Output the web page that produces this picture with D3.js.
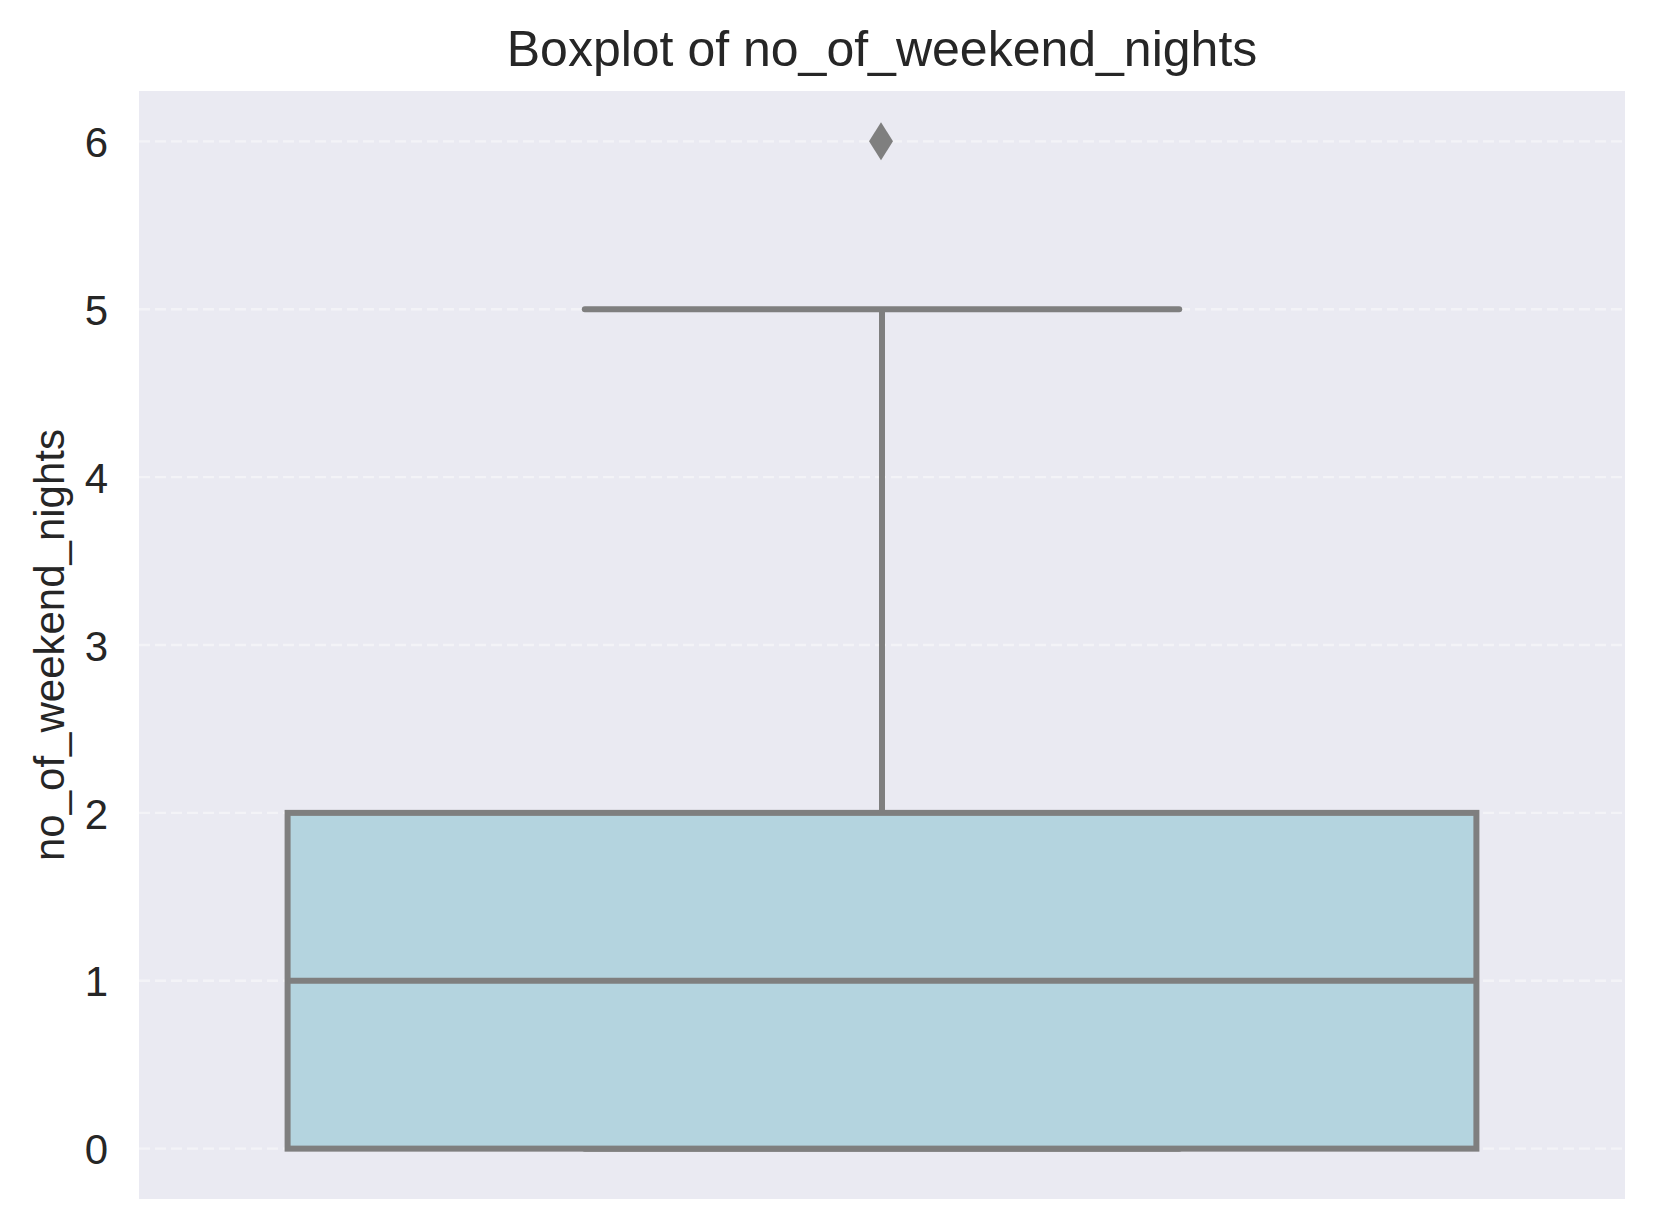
<!DOCTYPE html>
<html><head><meta charset="utf-8">
<script src="https://cdn.jsdelivr.net/npm/d3@7"></script>
<style>body{margin:0;background:#fff}svg{display:block}text{font-family:"Liberation Sans",Arial,sans-serif;fill:#262626}</style>
</head><body>
<script>
const title = "Boxplot of no_of_weekend_nights";
const yLabel = "no_of_weekend_nights";
const yTicks = [0, 1, 2, 3, 4, 5, 6];
const boxStats = [{q1: 0, median: 1, q3: 2, whiskerLow: 0, whiskerHigh: 5}];
const outliers = [6];

const W = 1655, H = 1230;
const m = {left: 139, right: 1625, top: 91, bottom: 1199};
const svg = d3.select("body").append("svg").attr("width", W).attr("height", H);

const y = d3.scaleLinear().domain([-0.3, 6.3]).range([m.bottom, m.top]);
const x = d3.scaleLinear().domain([-0.5, 0.5]).range([m.left, m.right]);

svg.append("rect").attr("x", m.left).attr("y", m.top)
  .attr("width", m.right - m.left).attr("height", m.bottom - m.top).attr("fill", "#eaeaf2");

// grid
svg.append("g").selectAll("line").data(yTicks).join("line")
  .attr("x1", m.left).attr("x2", m.right)
  .attr("y1", d => y(d)).attr("y2", d => y(d))
  .attr("stroke", "#f3f3f7").attr("stroke-width", 2.4).attr("stroke-dasharray", "11,5");

// y axis
const yAxis = d3.axisLeft(y).tickValues(yTicks).tickSize(0).tickPadding(31).tickFormat(d3.format("d"));
const ga = svg.append("g").attr("transform", `translate(${m.left},0)`).call(yAxis);
ga.select(".domain").remove();
ga.selectAll("text").style("font-size", "42px").attr("fill", "#262626").attr("dy", "0.36em");

const col = "#7f7f7f", lw = 6;
const g = svg.append("g");
boxStats.forEach(s => {
  const bw = 0.8;
  // whiskers
  g.append("line").attr("x1", x(0)).attr("x2", x(0)).attr("y1", y(s.q3)).attr("y2", y(s.whiskerHigh))
    .attr("stroke", col).attr("stroke-width", lw);
  g.append("line").attr("x1", x(0)).attr("x2", x(0)).attr("y1", y(s.q1)).attr("y2", y(s.whiskerLow))
    .attr("stroke", col).attr("stroke-width", lw);
  // caps
  [s.whiskerHigh, s.whiskerLow].forEach(v => {
    g.append("line").attr("x1", x(-bw / 4)).attr("x2", x(bw / 4)).attr("y1", y(v)).attr("y2", y(v))
      .attr("stroke", col).attr("stroke-width", lw).attr("stroke-linecap", "round");
  });
  // box
  g.append("rect").attr("x", x(-bw / 2)).attr("y", y(s.q3))
    .attr("width", x(bw / 2) - x(-bw / 2)).attr("height", y(s.q1) - y(s.q3))
    .attr("fill", "#b4d4df").attr("stroke", col).attr("stroke-width", lw);
  // median
  g.append("line").attr("x1", x(-bw / 2)).attr("x2", x(bw / 2)).attr("y1", y(s.median)).attr("y2", y(s.median))
    .attr("stroke", col).attr("stroke-width", lw);
});

// outliers
g.selectAll("path.out").data(outliers).join("path").attr("class", "out")
  .attr("d", d => {
    const cx = x(0) - 1, cy = y(d), hw = 12, hh = 19;
    return `M${cx},${cy - hh}L${cx + hw},${cy}L${cx},${cy + hh}L${cx - hw},${cy}Z`;
  })
  .attr("fill", col);

svg.append("text").attr("x", (m.left + m.right) / 2).attr("y", 66)
  .attr("text-anchor", "middle").style("font-size", "50px").text(title);

svg.append("text").attr("transform", `translate(64,${(m.top + m.bottom) / 2}) rotate(-90)`)
  .attr("text-anchor", "middle").style("font-size", "42px").text(yLabel);
</script>
</body></html>
